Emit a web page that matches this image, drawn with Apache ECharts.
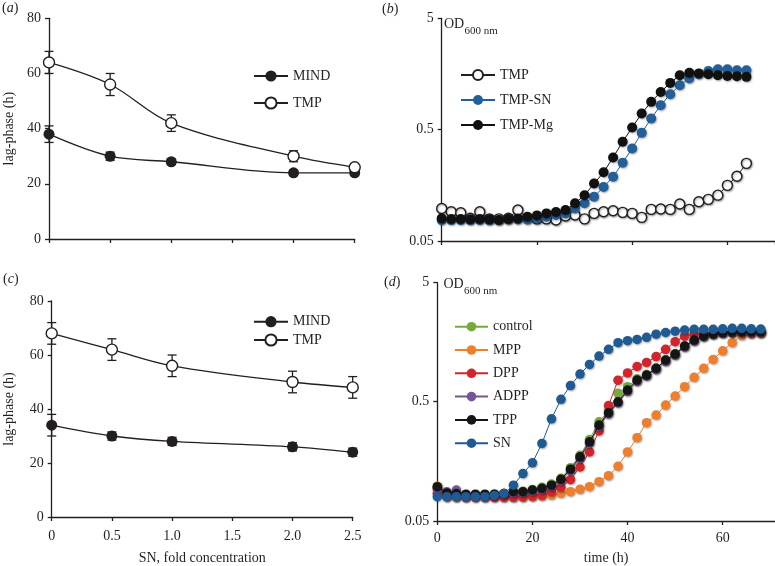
<!DOCTYPE html>
<html><head><meta charset="utf-8">
<script src="https://cdn.jsdelivr.net/npm/echarts@6/dist/echarts.min.js"></script>
<style>html,body{margin:0;padding:0;background:#fff}#c{width:775px;height:566px}</style>
</head><body><div id="c"></div>
<script>
// ---------- data ----------
const concA = [0, 0.5, 1.0, 2.0, 2.5];
const mindA = [38, 30, 28, 24, 24];
const mindAErr = [3, 1.5, 1, 1, 1];
const tmpA = [64, 56, 42, 30, 26];
const tmpAErr = [4, 4, 3, 2, 1];

const concC = [0, 0.5, 1.0, 2.0, 2.5];
const mindC = [34, 30, 28, 26, 24];
const mindCErr = [4, 1.5, 1.5, 1.5, 1.5];
const tmpC = [68, 62, 56, 50, 48];
const tmpCErr = [4, 4, 4, 4, 4];

const hoursB = [0,2,4,6,8,10,12,14,16,18,20,22,24,26,28,30,32,34,36,38,40,42,44,46,48,50,52,54,56,58,60,62,64];
const tmpB = [0.098,0.0916,0.0897,0.080,0.0916,0.079,0.079,0.080,0.0948,0.080,0.079,0.079,0.0771,0.0838,0.0855,0.079,0.0885,0.0916,0.0935,0.0904,0.0885,0.0815,0.0961,0.0968,0.0961,0.1073,0.0961,0.1126,0.1183,0.129,0.158,0.191,0.249];
const tmpSNB = [0.077,0.077,0.077,0.077,0.077,0.077,0.077,0.078,0.078,0.078,0.0798,0.0826,0.0855,0.0885,0.098,0.109,0.125,0.153,0.1886,0.252,0.339,0.468,0.63,0.829,1.04,1.25,1.44,1.57,1.68,1.74,1.74,1.71,1.71];
const tmpMgB = [0.0798,0.0787,0.0787,0.0782,0.0787,0.0782,0.0771,0.0787,0.0798,0.0826,0.0849,0.0885,0.091,0.0948,0.109,0.129,0.164,0.207,0.2815,0.389,0.523,0.698,0.888,1.09,1.315,1.54,1.62,1.60,1.57,1.54,1.52,1.51,1.49];

const hoursD = [0,2,4,6,8,10,12,14,16,18,20,22,24,26,28,30,32,34,36,38,40,42,44,46,48,50,52,54,56,58,60,62,64,66,68];
const controlD = [0.095,0.085,0.084,0.083,0.083,0.083,0.084,0.085,0.087,0.089,0.092,0.096,0.102,0.114,0.14,0.178,0.242,0.34,0.42,0.59,0.67,0.78,0.85,0.96,1.12,1.27,1.47,1.64,1.77,1.85,1.9,1.92,1.93,1.93,1.94];
const mppD = [0.098,0.08,0.079,0.079,0.079,0.079,0.079,0.079,0.079,0.079,0.08,0.081,0.0826,0.0853,0.0881,0.0922,0.097,0.107,0.12,0.144,0.19,0.25,0.334,0.387,0.47,0.56,0.67,0.803,0.955,1.136,1.34,1.57,1.8,1.86,1.88];
const dppD = [0.085,0.08,0.08,0.079,0.079,0.079,0.079,0.079,0.079,0.08,0.081,0.083,0.088,0.0955,0.111,0.142,0.19,0.285,0.465,0.76,0.875,0.99,1.07,1.2,1.38,1.6,1.78,1.85,1.88,1.9,1.9,1.9,1.9,1.9,1.9];
const adppD = [0.093,0.088,0.091,0.083,0.083,0.083,0.083,0.084,0.086,0.087,0.089,0.092,0.098,0.109,0.132,0.168,0.224,0.31,0.395,0.49,0.61,0.74,0.82,0.93,1.09,1.23,1.44,1.62,1.76,1.84,1.89,1.91,1.92,1.92,1.92];
const tppD = [0.097,0.086,0.085,0.084,0.084,0.084,0.084,0.085,0.088,0.088,0.091,0.094,0.1,0.112,0.136,0.173,0.231,0.319,0.405,0.5,0.628,0.762,0.839,0.955,1.12,1.26,1.47,1.65,1.78,1.85,1.9,1.92,1.93,1.93,1.93];
const snD = [0.08,0.08,0.08,0.08,0.08,0.08,0.082,0.085,0.1,0.125,0.154,0.224,0.36,0.525,0.685,0.855,1.03,1.21,1.38,1.57,1.63,1.67,1.74,1.85,1.91,1.96,2.0,2.03,2.03,2.03,2.05,2.07,2.07,2.05,2.04];

const xTicksC = [0, 0.5, 1.0, 1.5, 2.0, 2.5];
const odTicks = [0.05, 0.5, 5];

// ---------- helpers ----------
const FONT = 'Liberation Serif';
const INK = '#231f20';
const pair = (xs, ys) => xs.map((x, i) => [x, ys[i]]);
const nameOf = n => n.split(':')[1];

function axisBase(extra) {
  return Object.assign({
    axisLine: {show: true, onZero: false, lineStyle: {color: INK, width: 1.3}},
    axisTick: {show: true, inside: false, length: 4, lineStyle: {color: INK, width: 1.3}},
    axisLabel: {color: INK, fontFamily: FONT, fontSize: 14},
    splitLine: {show: false},
    nameTextStyle: {color: INK, fontFamily: FONT, fontSize: 14}
  }, extra);
}

function errSeries(xs, ys, errs, gi) {
  return {
    type: 'custom', xAxisIndex: gi, yAxisIndex: gi, silent: true, z: 1,
    data: xs.map((x, i) => [x, ys[i] - errs[i], ys[i] + errs[i]]),
    encode: {x: 0, y: [1, 2]},
    renderItem(params, api) {
      const x = api.value(0);
      const lo = api.coord([x, api.value(1)]);
      const hi = api.coord([x, api.value(2)]);
      const w = 4.5;
      const st = {stroke: INK, lineWidth: 1.3};
      return {type: 'group', children: [
        {type: 'line', shape: {x1: lo[0], y1: lo[1], x2: hi[0], y2: hi[1]}, style: st},
        {type: 'line', shape: {x1: lo[0] - w, y1: lo[1], x2: lo[0] + w, y2: lo[1]}, style: st},
        {type: 'line', shape: {x1: hi[0] - w, y1: hi[1], x2: hi[0] + w, y2: hi[1]}, style: st}
      ]};
    }
  };
}

function lagSeries(name, xs, ys, gi, open) {
  return {
    name, type: 'line', xAxisIndex: gi, yAxisIndex: gi, z: 3,
    data: pair(xs, ys), smooth: 0.35,
    symbol: 'circle', symbolSize: 11,
    lineStyle: {color: INK, width: 1.3},
    itemStyle: open ? {color: '#ffffff', borderColor: INK, borderWidth: 1.4}
                    : {color: INK, borderColor: INK, borderWidth: 0}
  };
}

const shadow = {shadowBlur: 2, shadowColor: 'rgba(0,0,0,0.35)', shadowOffsetX: 0.8, shadowOffsetY: 1};
function odSeries(name, xs, ys, gi, color, open, size, z) {
  return {
    name, type: 'line', xAxisIndex: gi, yAxisIndex: gi, z: z,
    data: pair(xs, ys),
    symbol: 'circle', symbolSize: size,
    lineStyle: {color: open ? INK : color, width: 1},
    itemStyle: open ? Object.assign({color: '#ffffff', borderColor: INK, borderWidth: 1.4}, shadow)
                    : Object.assign({color: color, borderWidth: 0}, shadow)
  };
}

function legend(names, left, top, w, h, gap) {
  return {
    data: names, left, top, orient: 'vertical', padding: 0,
    itemWidth: w, itemHeight: h, itemGap: gap, selectedMode: false,
    formatter: nameOf,
    textStyle: {color: INK, fontFamily: FONT, fontSize: 14, lineHeight: 14}
  };
}

const logLabel = v => String(parseFloat(Number(v).toPrecision(2)));

const option = {
  backgroundColor: '#ffffff',
  animation: false,
  textStyle: {fontFamily: FONT},
  grid: [
    {left: 49, top: 18.3, width: 305.7, height: 220.7},
    {left: 441.7, top: 18.3, width: 334.3, height: 222.7},
    {left: 51.7, top: 301, width: 301, height: 222.3},
    {left: 437.3, top: 282.7, width: 338.5, height: 238.3}
  ],
  xAxis: [
    axisBase({type: 'value', gridIndex: 0, min: 0, max: 2.5, interval: 0.5, axisLabel: {show: false}}),
    axisBase({type: 'value', gridIndex: 1, min: 0, max: 70, interval: 20, axisLabel: {show: false}}),
    axisBase({type: 'value', gridIndex: 2, min: 0, max: 2.5, interval: 0.5,
      axisLabel: {color: INK, fontFamily: FONT, fontSize: 14, margin: 12,
        formatter: v => (v === 0 ? '0' : v.toFixed(1))},
      name: 'SN, fold concentration', nameLocation: 'middle', nameGap: 34}),
    axisBase({type: 'value', gridIndex: 3, min: 0, max: 71, interval: 20,
      axisLabel: {color: INK, fontFamily: FONT, fontSize: 14, margin: 10, showMaxLabel: false},
      name: 'time (h)', nameLocation: 'middle', nameGap: 30})
  ],
  yAxis: [
    axisBase({type: 'value', gridIndex: 0, min: 0, max: 80, interval: 20,
      name: 'lag-phase (h)', nameLocation: 'middle', nameGap: 33}),
    axisBase({type: 'log', logBase: 10, gridIndex: 1, min: 0.05, max: 5, interval: 1,
      axisLabel: {color: INK, fontFamily: FONT, fontSize: 14, formatter: logLabel}}),
    axisBase({type: 'value', gridIndex: 2, min: 0, max: 80, interval: 20,
      name: 'lag-phase (h)', nameLocation: 'middle', nameGap: 35}),
    axisBase({type: 'log', logBase: 10, gridIndex: 3, min: 0.05, max: 5, interval: 1,
      axisLabel: {color: INK, fontFamily: FONT, fontSize: 14, formatter: logLabel}})
  ],
  legend: [
    legend(['a:MIND', 'a:TMP'], 253, 69, 34, 14, 13),
    legend(['b:TMP', 'b:TMP-SN', 'b:TMP-Mg'], 460, 68, 34, 12.5, 11),
    legend(['c:MIND', 'c:TMP'], 253, 314.7, 34, 14, 4.3),
    legend(['d:control', 'd:MPP', 'd:DPP', 'd:ADPP', 'd:TPP', 'd:SN'], 454, 319.7, 33, 12, 9.3)
  ],
  series: [
    errSeries(concA, mindA, mindAErr, 0),
    errSeries(concA, tmpA, tmpAErr, 0),
    lagSeries('a:MIND', concA, mindA, 0, false),
    lagSeries('a:TMP', concA, tmpA, 0, true),

    odSeries('b:TMP', hoursB, tmpB, 1, INK, true, 10, 2),
    odSeries('b:TMP-SN', hoursB, tmpSNB, 1, '#23609a', false, 10, 3),
    odSeries('b:TMP-Mg', hoursB, tmpMgB, 1, '#111111', false, 10, 4),

    errSeries(concC, mindC, mindCErr, 2),
    errSeries(concC, tmpC, tmpCErr, 2),
    lagSeries('c:MIND', concC, mindC, 2, false),
    lagSeries('c:TMP', concC, tmpC, 2, true),

    odSeries('d:control', hoursD, controlD, 3, '#77a83c', false, 9.5, 2),
    odSeries('d:MPP', hoursD, mppD, 3, '#ef7f2d', false, 9.5, 3),
    odSeries('d:DPP', hoursD, dppD, 3, '#d3242c', false, 9.5, 4),
    odSeries('d:ADPP', hoursD, adppD, 3, '#76549a', false, 9.5, 5),
    odSeries('d:TPP', hoursD, tppD, 3, '#151515', false, 9.5, 6),
    odSeries('d:SN', hoursD, snD, 3, '#1f5a93', false, 9.5, 7)
  ],
  graphic: [
    {type: 'text', left: 2, top: 1, style: {text: '({i|a})', fill: INK, font: '14px ' + FONT, rich: {i: {fontStyle: 'italic', fontFamily: FONT, fontSize: 14, fill: INK}}}},
    {type: 'text', left: 382, top: 2, style: {text: '({i|b})', fill: INK, font: '14px ' + FONT, rich: {i: {fontStyle: 'italic', fontFamily: FONT, fontSize: 14, fill: INK}}}},
    {type: 'text', left: 3, top: 272, style: {text: '({i|c})', fill: INK, font: '14px ' + FONT, rich: {i: {fontStyle: 'italic', fontFamily: FONT, fontSize: 14, fill: INK}}}},
    {type: 'text', left: 384, top: 275, style: {text: '({i|d})', fill: INK, font: '14px ' + FONT, rich: {i: {fontStyle: 'italic', fontFamily: FONT, fontSize: 14, fill: INK}}}},
    {type: 'text', left: 444, top: 17, style: {text: 'OD', fill: INK, font: '14px ' + FONT}},
    {type: 'text', left: 464.5, top: 25.5, style: {text: '600 nm', fill: INK, font: '11px ' + FONT}},
    {type: 'text', left: 443.5, top: 277.5, style: {text: 'OD', fill: INK, font: '14px ' + FONT}},
    {type: 'text', left: 464, top: 286, style: {text: '600 nm', fill: INK, font: '11px ' + FONT}}
  ]
};

const chart = echarts.init(document.getElementById('c'), null, {renderer: 'canvas'});
chart.setOption(option);
</script>
</body></html>
